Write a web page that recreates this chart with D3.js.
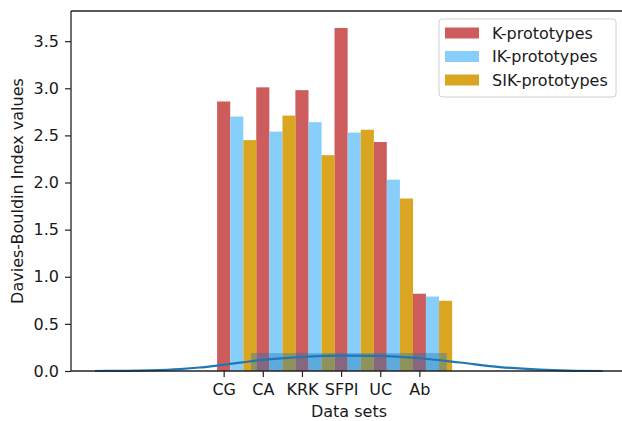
<!DOCTYPE html>
<html>
<head>
<meta charset="utf-8">
<script src="https://cdn.jsdelivr.net/npm/d3@7"></script>
<style>
  body { margin: 0; background: #fff; }
  text { font-family: "DejaVu Sans", sans-serif; fill: #1a1a1a; }
</style>
</head>
<body>
<div id="chart"></div>
<script>
// data
const categories = ["CG", "CA", "KRK", "SFPI", "UC", "Ab"];
const kProto = [2.86, 3.01, 2.98, 3.64, 2.43, 0.82];
const ikProto = [2.70, 2.54, 2.64, 2.53, 2.03, 0.79];
const sikProto = [2.45, 2.71, 2.29, 2.56, 1.83, 0.745];
const seriesNames = ["K-prototypes", "IK-prototypes", "SIK-prototypes"];
const seriesColors = ["#cd5c5c", "#87cefa", "#daa520"];
const yTicks = [0, 0.5, 1, 1.5, 2, 2.5, 3, 3.5];

// single-bin density histogram + kde curve overlaid near the baseline
const histEdges = [0.70, 5.70];
const histDensity = [0.19];
const kdeX = [-3.29, -2.5, -1.88, -1.12, -0.61, -0.17, 0.42, 0.93, 1.95, 3.1, 3.99, 5.01, 6.04, 7.06, 8.08, 8.8, 9.69];
const kdeY = [0, 0.002, 0.007, 0.02, 0.037, 0.058, 0.088, 0.115, 0.148, 0.163, 0.16, 0.135, 0.09, 0.042, 0.015, 0.005, 0];

const width = 622, height = 421;
const margin = { top: 11, right: -6, bottom: 50, left: 71 };
const fontSize = 16;

const svg = d3.select("#chart")
    .append("svg")
    .attr("width", width)
    .attr("height", height);

const x = d3.scaleLinear()
    .domain([-3.9, 10.33])
    .range([margin.left, width - margin.right]);

const y = d3.scaleLinear()
    .domain([0, 3.82])
    .range([height - margin.bottom, margin.top]);

const barW = 0.335;
const allSeries = [kProto, ikProto, sikProto];

allSeries.forEach((vals, s) => {
    svg.append("g")
        .selectAll("rect")
        .data(vals)
        .join("rect")
        .attr("x", (d, i) => x(i + s * barW - barW / 2))
        .attr("y", d => y(d))
        .attr("width", x(barW) - x(0))
        .attr("height", d => y(0) - y(d))
        .attr("fill", seriesColors[s]);
});

// histogram bar
svg.append("rect")
    .attr("x", x(histEdges[0]))
    .attr("y", y(histDensity[0]))
    .attr("width", x(histEdges[1]) - x(histEdges[0]))
    .attr("height", y(0) - y(histDensity[0]))
    .attr("fill", "#1f77b4")
    .attr("fill-opacity", 0.4);

// kde line
const kdeLine = d3.line()
    .x((d, i) => x(kdeX[i]))
    .y(d => y(d))
    .curve(d3.curveMonotoneX);

svg.append("path")
    .datum(kdeY)
    .attr("d", kdeLine)
    .attr("fill", "none")
    .attr("stroke", "#1f77b4")
    .attr("stroke-width", 2.2);

// axes
const xAxis = svg.append("g")
    .attr("transform", `translate(0,${y(0)})`)
    .call(d3.axisBottom(x)
        .tickValues(d3.range(categories.length))
        .tickFormat(i => categories[i])
        .tickSize(6)
        .tickPadding(7));

const yAxis = svg.append("g")
    .attr("transform", `translate(${margin.left},0)`)
    .call(d3.axisLeft(y)
        .tickValues(yTicks)
        .tickFormat(d3.format(".1f"))
        .tickSize(6)
        .tickPadding(6));

[xAxis, yAxis].forEach(g => {
    g.select(".domain").remove();
    g.selectAll(".tick line").attr("stroke", "#222").attr("stroke-width", 1.2);
    g.selectAll(".tick text").attr("font-size", fontSize).attr("fill", "#1a1a1a")
        .attr("font-family", "DejaVu Sans, sans-serif");
});

// spines
const spines = svg.append("g").attr("stroke", "#222").attr("stroke-width", 1.3);
spines.append("line").attr("x1", margin.left).attr("x2", margin.left)
    .attr("y1", margin.top).attr("y2", y(0));
spines.append("line").attr("x1", margin.left).attr("x2", width)
    .attr("y1", y(0)).attr("y2", y(0));
spines.append("line").attr("x1", margin.left).attr("x2", width)
    .attr("y1", margin.top).attr("y2", margin.top);

// axis titles
svg.append("text")
    .attr("x", 349)
    .attr("y", 417)
    .attr("text-anchor", "middle")
    .attr("font-size", fontSize)
    .text("Data sets");

svg.append("text")
    .attr("transform", `translate(23,${(margin.top + y(0)) / 2}) rotate(-90)`)
    .attr("text-anchor", "middle")
    .attr("font-size", fontSize)
    .text("Davies-Bouldin Index values");

// legend
const legend = svg.append("g").attr("transform", "translate(439,19)");
legend.append("rect")
    .attr("width", 177)
    .attr("height", 78)
    .attr("rx", 3)
    .attr("fill", "#fff")
    .attr("fill-opacity", 0.8)
    .attr("stroke", "#d0d0d0");

seriesNames.forEach((name, i) => {
    const row = legend.append("g").attr("transform", `translate(6,${13.5 + i * 23.5})`);
    row.append("rect")
        .attr("x", 0).attr("y", -5)
        .attr("width", 34).attr("height", 11)
        .attr("fill", seriesColors[i]);
    row.append("text")
        .attr("x", 47).attr("y", 6)
        .attr("font-size", fontSize)
        .text(name);
});
</script>
</body>
</html>
